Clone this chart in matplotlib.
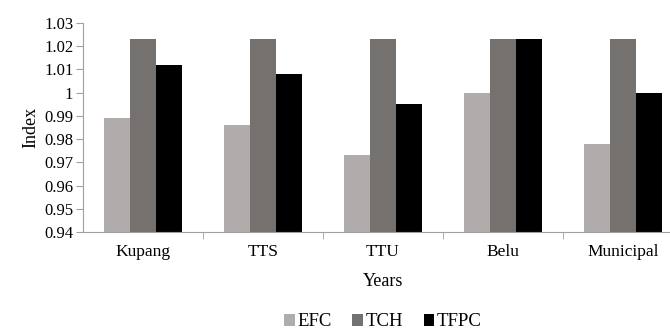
import matplotlib.pyplot as plt
import numpy as np

# data
regions = ["Kupang", "TTS", "TTU", "Belu", "Municipal"]
efc = [0.989, 0.986, 0.973, 1.000, 0.978]
tch = [1.023, 1.023, 1.023, 1.023, 1.023]
tfpc = [1.012, 1.008, 0.995, 1.023, 1.000]
series_names = ["EFC", "TCH", "TFPC"]
colors = ["#b0acab", "#75716f", "#000000"]

plt.rcParams["font.family"] = ["Liberation Serif", "DejaVu Serif"]

fig = plt.figure(figsize=(6.7, 3.32), dpi=100)
# axes run a bit past the right edge, as in the reference (cropped)
ax = fig.add_axes([83 / 670, 100 / 332, 600 / 670, 209 / 332])

x = np.arange(len(regions))
w = 0.217
for i, (vals, name, c) in enumerate(zip([efc, tch, tfpc], series_names, colors)):
    ax.bar(x + (i - 1) * w, np.array(vals) - 0.94, width=w, bottom=0.94,
           color=c, label=name, zorder=2)

ax.set_xlim(-0.5, len(regions) - 0.5)
ax.set_ylim(0.94, 1.03)
ax.set_yticks(np.arange(0.94, 1.0301, 0.01))
ax.set_yticklabels(["0.94", "0.95", "0.96", "0.97", "0.98", "0.99", "1",
                    "1.01", "1.02", "1.03"])
ax.set_xticks(x)
ax.set_xticklabels(regions)
ax.set_xticks(np.arange(0.5, len(regions) - 1, 1), minor=True)
ax.tick_params(axis="x", which="major", length=0, pad=9, labelsize=12.5)
ax.tick_params(axis="x", which="minor", length=5, color="#a0a0a0", direction="out")
ax.tick_params(axis="y", length=5, color="#a0a0a0", labelsize=12, pad=2)

for s in ["top", "right"]:
    ax.spines[s].set_visible(False)
for s in ["left", "bottom"]:
    ax.spines[s].set_color("#a0a0a0")

ax.set_ylabel("Index", fontsize=13, labelpad=3)
ax.set_xlabel("Years", fontsize=13, labelpad=9)

fig.legend(loc="center", bbox_to_anchor=(383 / 670, 1 - 322 / 332), ncol=3,
           frameon=False, fontsize=13.5, handlelength=0.55, handleheight=0.55,
           handletextpad=0.15, columnspacing=1.1)

fig.savefig("out.png", dpi=100)
